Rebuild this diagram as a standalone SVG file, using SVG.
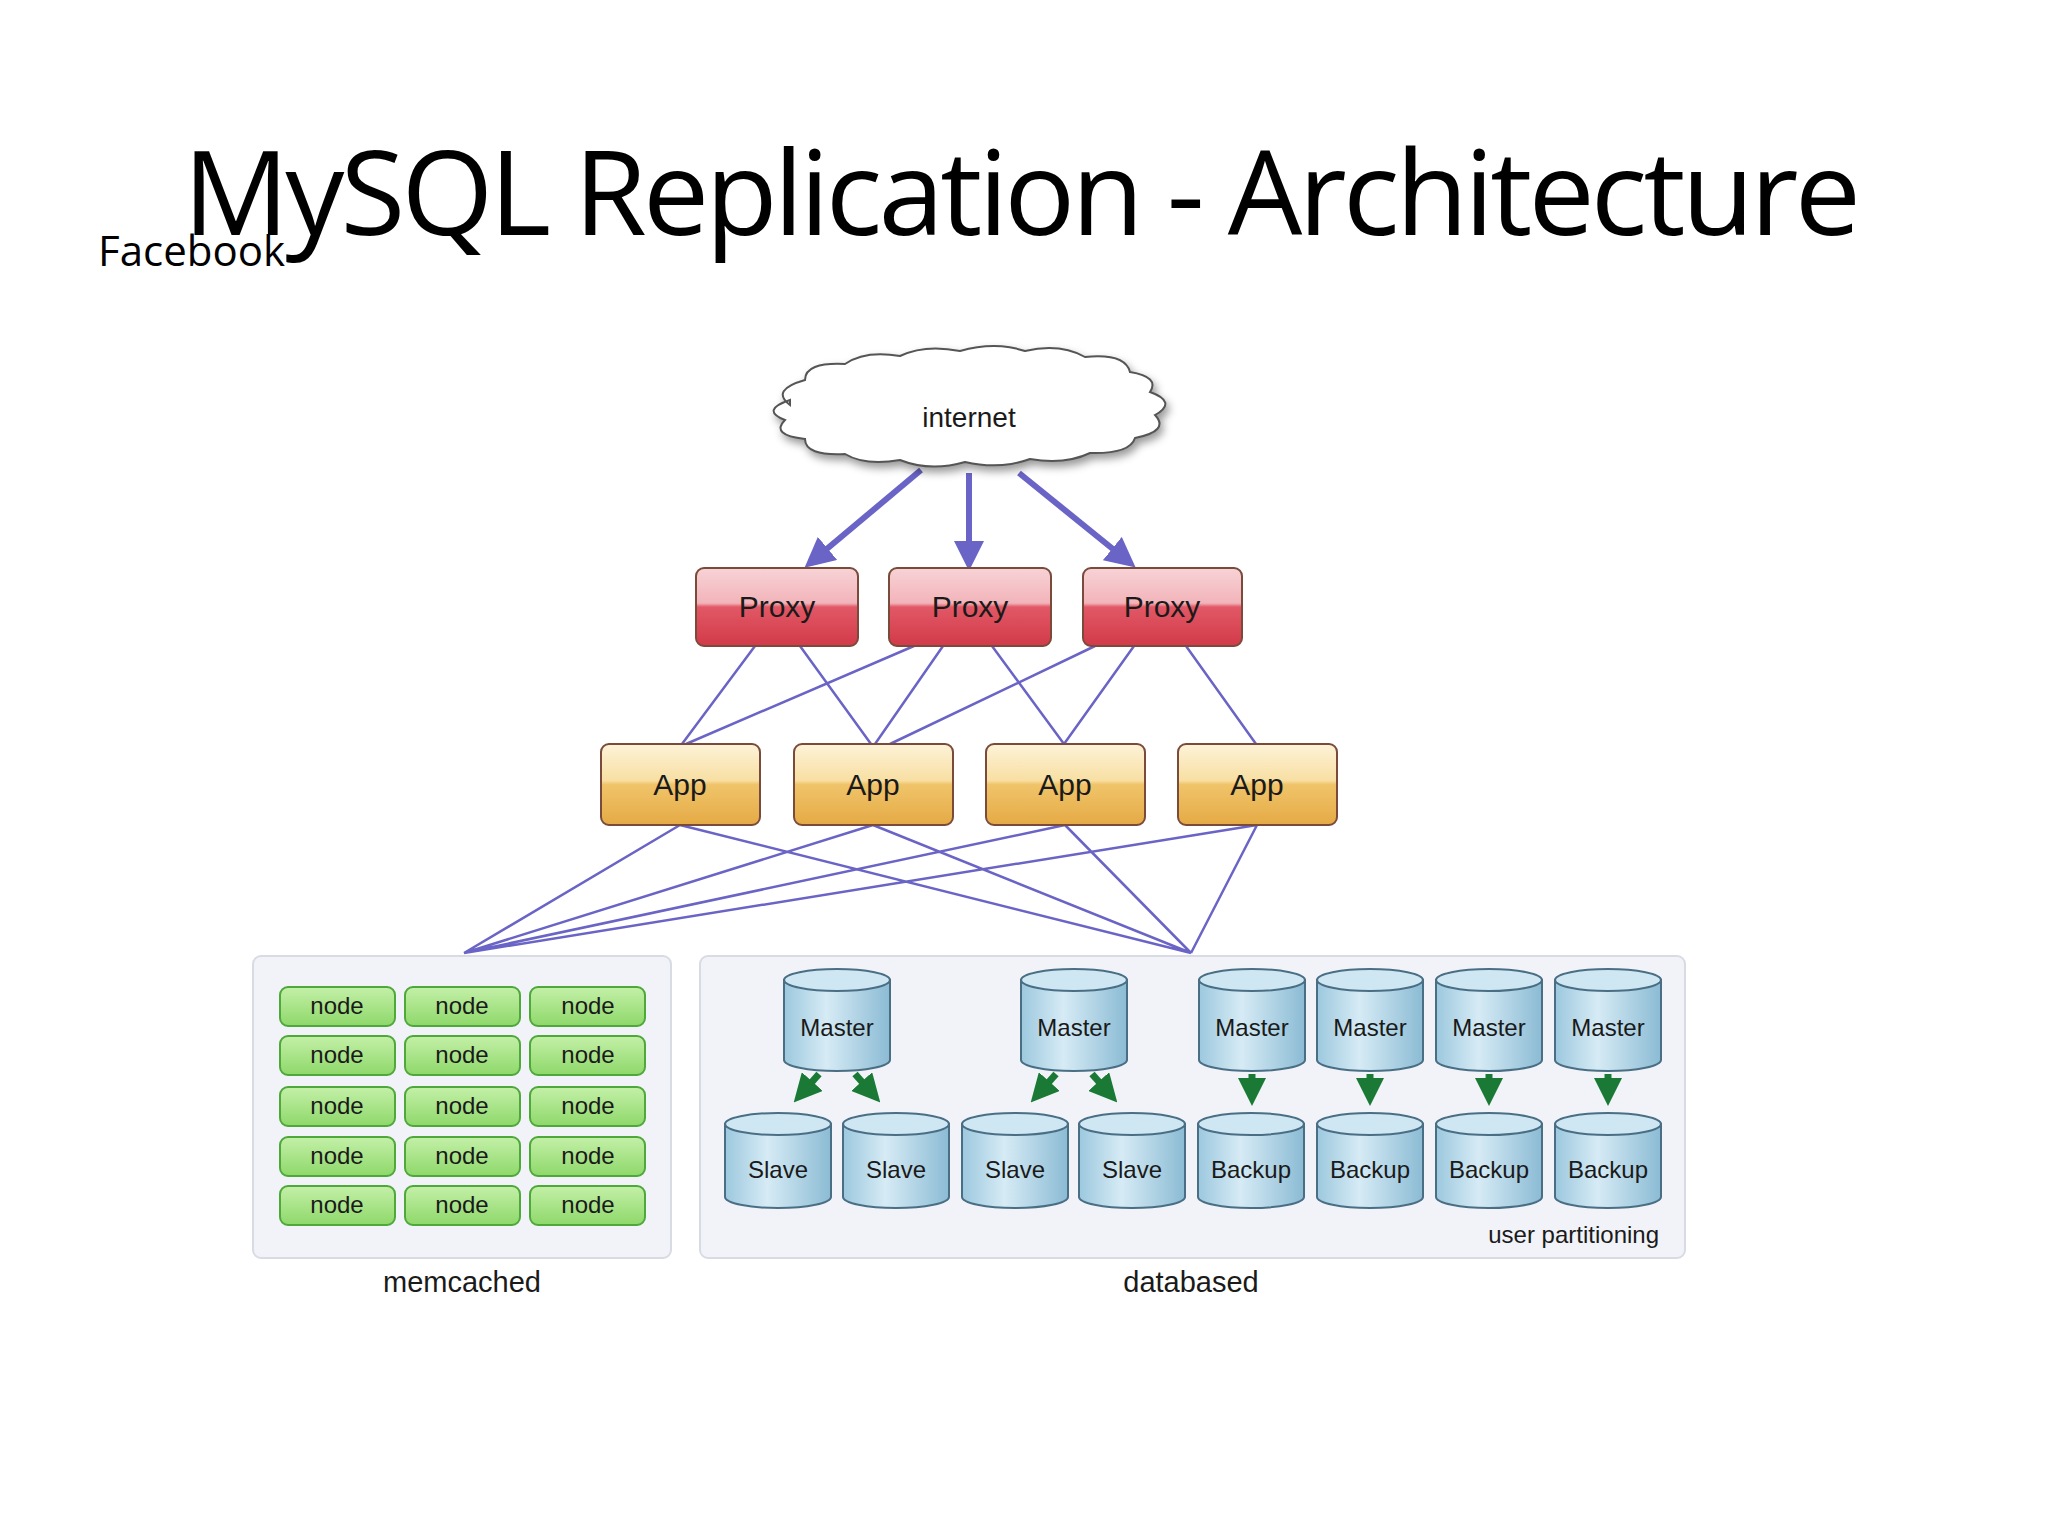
<svg xmlns="http://www.w3.org/2000/svg" width="2048" height="1536" viewBox="0 0 2048 1536">
<defs>
<linearGradient id="gp" x1="0" y1="0" x2="0" y2="1"><stop offset="0" stop-color="#f7d3d6"/><stop offset="0.45" stop-color="#f2b4ba"/><stop offset="0.5" stop-color="#e25866"/><stop offset="1" stop-color="#d23a48"/></linearGradient>
<linearGradient id="ga" x1="0" y1="0" x2="0" y2="1"><stop offset="0" stop-color="#fdf3d8"/><stop offset="0.45" stop-color="#f8dfa3"/><stop offset="0.5" stop-color="#f0c46a"/><stop offset="1" stop-color="#e5aa45"/></linearGradient>
<linearGradient id="gn" x1="0" y1="0" x2="0" y2="1"><stop offset="0" stop-color="#c4f0a8"/><stop offset="1" stop-color="#8ed86a"/></linearGradient>
<linearGradient id="gc" x1="0" y1="0" x2="1" y2="0"><stop offset="0" stop-color="#9cc8de"/><stop offset="0.4" stop-color="#d6ebf5"/><stop offset="1" stop-color="#8bbbd4"/></linearGradient>
<marker id="ap" markerWidth="5" markerHeight="5" refX="2.5" refY="2.5" orient="auto"><path d="M0,0 L5,2.5 L0,5 z" fill="#6a64c6"/></marker>
<marker id="ag" markerWidth="4" markerHeight="4" refX="2" refY="2" orient="auto"><path d="M0,0 L4,2 L0,4 z" fill="#1a7a35"/></marker>
</defs>
<style>
.lbl{font-family:"Liberation Sans",Arial,sans-serif;fill:#1a1a1a;text-anchor:middle}
.box{stroke:#7a4a3a;stroke-width:2}
.node rect{fill:url(#gn);stroke:#4ea83a;stroke-width:2}
.cyl path{fill:url(#gc);stroke:#4a6f85;stroke-width:2}
.cyl ellipse{fill:#cfe7f3;stroke:#4a6f85;stroke-width:2}
.ln{stroke:#6a64c6;stroke-width:2.5;fill:none}
.th{stroke:#6a64c6;stroke-width:6;fill:none}
.gr{stroke:#1a7a35;stroke-width:7;fill:none}
</style>
<rect width="2048" height="1536" fill="#fff"/>
<text x="183" y="235" font-family="Open Sans,Liberation Sans,sans-serif" font-size="118" textLength="1678" lengthAdjust="spacing" fill="#000">MySQL Replication - Architecture</text>
<text x="98" y="266" font-family="Open Sans,Liberation Sans,sans-serif" font-size="42" fill="#000">Facebook</text>

<rect x="253" y="956" width="418" height="302" rx="8" fill="#f1f3f8" stroke="#d8dbe4" stroke-width="2"/>
<rect x="700" y="956" width="985" height="302" rx="8" fill="#f1f3f8" stroke="#d8dbe4" stroke-width="2"/>

<g id="connectors">
<path class="th" d="M921,470 L816,558" marker-end="url(#ap)"/>
<path class="th" d="M969,473 L969,556" marker-end="url(#ap)"/>
<path class="th" d="M1019,473 L1124,558" marker-end="url(#ap)"/>
<path class="ln" d="M755,646 L682,744 M800,646 L871,744 M914,646 L686,744 M943,646 L875,744 M992,646 L1064,744 M1095,646 L890,744 M1134,646 L1064,744 M1186,646 L1256,744"/>
<path class="ln" d="M680,825 L464,953 M680,825 L1191,953 M873,825 L464,953 M873,825 L1191,953 M1065,825 L464,953 M1065,825 L1191,953 M1257,825 L464,953 M1257,825 L1191,953"/>
<path class="gr" d="M819,1074 L803,1092" marker-end="url(#ag)"/>
<path class="gr" d="M855,1074 L871,1092" marker-end="url(#ag)"/>
<path class="gr" d="M1056,1074 L1040,1092" marker-end="url(#ag)"/>
<path class="gr" d="M1092,1074 L1108,1092" marker-end="url(#ag)"/>
<path class="gr" d="M1252,1074 L1252,1092" marker-end="url(#ag)"/>
<path class="gr" d="M1370,1074 L1370,1092" marker-end="url(#ag)"/>
<path class="gr" d="M1489,1074 L1489,1092" marker-end="url(#ag)"/>
<path class="gr" d="M1608,1074 L1608,1092" marker-end="url(#ag)"/>
</g>

<g id="internet">
<path d="M790,405 q-20,-15 15,-25 q0,-18 40,-16 q20,-14 55,-8 q25,-12 60,-5 q35,-10 65,0 q35,-8 60,6 q40,-4 45,15 q30,5 20,20 q28,10 5,23 q15,16 -20,23 q-5,16 -45,15 q-25,12 -60,6 q-30,11 -65,3 q-35,10 -65,-2 q-35,6 -55,-6 q-40,2 -40,-15 q-35,-4 -20,-19 q-25,-10 5,-20 z" fill="#fff" stroke="#555" stroke-width="2" style="filter:drop-shadow(3px 5px 4px rgba(0,0,0,0.4))"/>
<text class="lbl" x="969" y="427" font-size="28">internet</text>
</g>

<g id="proxy1"><rect class="box" x="696" y="568" width="162" height="78" rx="8" fill="url(#gp)"/><text class="lbl" x="777" y="617" font-size="30">Proxy</text></g>
<g id="proxy2"><rect class="box" x="889" y="568" width="162" height="78" rx="8" fill="url(#gp)"/><text class="lbl" x="970" y="617" font-size="30">Proxy</text></g>
<g id="proxy3"><rect class="box" x="1083" y="568" width="159" height="78" rx="8" fill="url(#gp)"/><text class="lbl" x="1162" y="617" font-size="30">Proxy</text></g>

<g id="app1"><rect class="box" x="601" y="744" width="159" height="81" rx="8" fill="url(#ga)"/><text class="lbl" x="680" y="795" font-size="30">App</text></g>
<g id="app2"><rect class="box" x="794" y="744" width="159" height="81" rx="8" fill="url(#ga)"/><text class="lbl" x="873" y="795" font-size="30">App</text></g>
<g id="app3"><rect class="box" x="986" y="744" width="159" height="81" rx="8" fill="url(#ga)"/><text class="lbl" x="1065" y="795" font-size="30">App</text></g>
<g id="app4"><rect class="box" x="1178" y="744" width="159" height="81" rx="8" fill="url(#ga)"/><text class="lbl" x="1257" y="795" font-size="30">App</text></g>

<g id="memcached" class="node">
<rect x="280" y="987" width="115" height="39" rx="8"/><rect x="405" y="987" width="115" height="39" rx="8"/><rect x="530" y="987" width="115" height="39" rx="8"/>
<rect x="280" y="1036" width="115" height="39" rx="8"/><rect x="405" y="1036" width="115" height="39" rx="8"/><rect x="530" y="1036" width="115" height="39" rx="8"/>
<rect x="280" y="1087" width="115" height="39" rx="8"/><rect x="405" y="1087" width="115" height="39" rx="8"/><rect x="530" y="1087" width="115" height="39" rx="8"/>
<rect x="280" y="1137" width="115" height="39" rx="8"/><rect x="405" y="1137" width="115" height="39" rx="8"/><rect x="530" y="1137" width="115" height="39" rx="8"/>
<rect x="280" y="1186" width="115" height="39" rx="8"/><rect x="405" y="1186" width="115" height="39" rx="8"/><rect x="530" y="1186" width="115" height="39" rx="8"/>
<g class="lbl" font-size="24">
<text x="337" y="1014">node</text><text x="462" y="1014">node</text><text x="588" y="1014">node</text>
<text x="337" y="1063">node</text><text x="462" y="1063">node</text><text x="588" y="1063">node</text>
<text x="337" y="1114">node</text><text x="462" y="1114">node</text><text x="588" y="1114">node</text>
<text x="337" y="1164">node</text><text x="462" y="1164">node</text><text x="588" y="1164">node</text>
<text x="337" y="1213">node</text><text x="462" y="1213">node</text><text x="588" y="1213">node</text>
</g>
<text class="lbl" x="462" y="1292" font-size="29">memcached</text>
</g>

<g id="databased" class="cyl">
<g id="m1"><path d="M784,980 v80 a53,11 0 0 0 106,0 v-80 z"/><ellipse cx="837" cy="980" rx="53" ry="11"/><text class="lbl" x="837" y="1036" font-size="24">Master</text></g>
<g id="m2"><path d="M1021,980 v80 a53,11 0 0 0 106,0 v-80 z"/><ellipse cx="1074" cy="980" rx="53" ry="11"/><text class="lbl" x="1074" y="1036" font-size="24">Master</text></g>
<g id="m3"><path d="M1199,980 v80 a53,11 0 0 0 106,0 v-80 z"/><ellipse cx="1252" cy="980" rx="53" ry="11"/><text class="lbl" x="1252" y="1036" font-size="24">Master</text></g>
<g id="m4"><path d="M1317,980 v80 a53,11 0 0 0 106,0 v-80 z"/><ellipse cx="1370" cy="980" rx="53" ry="11"/><text class="lbl" x="1370" y="1036" font-size="24">Master</text></g>
<g id="m5"><path d="M1436,980 v80 a53,11 0 0 0 106,0 v-80 z"/><ellipse cx="1489" cy="980" rx="53" ry="11"/><text class="lbl" x="1489" y="1036" font-size="24">Master</text></g>
<g id="m6"><path d="M1555,980 v80 a53,11 0 0 0 106,0 v-80 z"/><ellipse cx="1608" cy="980" rx="53" ry="11"/><text class="lbl" x="1608" y="1036" font-size="24">Master</text></g>
<g id="s1"><path d="M725,1124 v73 a53,11 0 0 0 106,0 v-73 z"/><ellipse cx="778" cy="1124" rx="53" ry="11"/><text class="lbl" x="778" y="1178" font-size="24">Slave</text></g>
<g id="s2"><path d="M843,1124 v73 a53,11 0 0 0 106,0 v-73 z"/><ellipse cx="896" cy="1124" rx="53" ry="11"/><text class="lbl" x="896" y="1178" font-size="24">Slave</text></g>
<g id="s3"><path d="M962,1124 v73 a53,11 0 0 0 106,0 v-73 z"/><ellipse cx="1015" cy="1124" rx="53" ry="11"/><text class="lbl" x="1015" y="1178" font-size="24">Slave</text></g>
<g id="s4"><path d="M1079,1124 v73 a53,11 0 0 0 106,0 v-73 z"/><ellipse cx="1132" cy="1124" rx="53" ry="11"/><text class="lbl" x="1132" y="1178" font-size="24">Slave</text></g>
<g id="b1"><path d="M1198,1124 v73 a53,11 0 0 0 106,0 v-73 z"/><ellipse cx="1251" cy="1124" rx="53" ry="11"/><text class="lbl" x="1251" y="1178" font-size="24">Backup</text></g>
<g id="b2"><path d="M1317,1124 v73 a53,11 0 0 0 106,0 v-73 z"/><ellipse cx="1370" cy="1124" rx="53" ry="11"/><text class="lbl" x="1370" y="1178" font-size="24">Backup</text></g>
<g id="b3"><path d="M1436,1124 v73 a53,11 0 0 0 106,0 v-73 z"/><ellipse cx="1489" cy="1124" rx="53" ry="11"/><text class="lbl" x="1489" y="1178" font-size="24">Backup</text></g>
<g id="b4"><path d="M1555,1124 v73 a53,11 0 0 0 106,0 v-73 z"/><ellipse cx="1608" cy="1124" rx="53" ry="11"/><text class="lbl" x="1608" y="1178" font-size="24">Backup</text></g>
<text class="lbl" x="1659" y="1243" font-size="24" style="text-anchor:end">user partitioning</text>
<text class="lbl" x="1191" y="1292" font-size="29">databased</text>
</g>
</svg>
